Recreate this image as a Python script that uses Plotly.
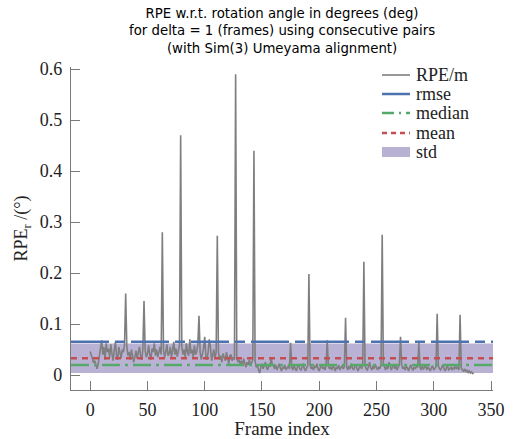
import plotly.graph_objects as go

# ---------------- data ----------------
frames = list(range(336))
rpe = [
    0.046, 0.038, 0.030, 0.024, 0.028, 0.018, 0.012, 0.022, 0.035, 0.050, 0.068, 0.040, 0.055, 0.030, 0.062, 0.045,
    0.052, 0.035, 0.060, 0.042, 0.028, 0.048, 0.065, 0.038, 0.030, 0.055, 0.040, 0.033, 0.050, 0.045, 0.060, 0.160,
    0.055, 0.038, 0.045, 0.030, 0.050, 0.040, 0.025, 0.035, 0.048, 0.032, 0.042, 0.055, 0.038, 0.030, 0.050, 0.145,
    0.048, 0.035, 0.042, 0.058, 0.040, 0.030, 0.052, 0.045, 0.062, 0.038, 0.050, 0.035, 0.045, 0.055, 0.040, 0.280,
    0.050, 0.035, 0.045, 0.060, 0.038, 0.042, 0.055, 0.035, 0.048, 0.065, 0.040, 0.052, 0.036, 0.045, 0.058, 0.470,
    0.055, 0.040, 0.050, 0.035, 0.062, 0.045, 0.038, 0.070, 0.042, 0.050, 0.035, 0.058, 0.040, 0.045, 0.060, 0.116,
    0.045, 0.030, 0.040, 0.052, 0.075, 0.038, 0.030, 0.045, 0.070, 0.055, 0.028, 0.040, 0.050, 0.032, 0.045, 0.273,
    0.045, 0.030, 0.038, 0.025, 0.042, 0.035, 0.028, 0.045, 0.030, 0.022, 0.038, 0.040, 0.028, 0.035, 0.030, 0.590,
    0.035, 0.025, 0.030, 0.020, 0.028, 0.018, 0.032, 0.022, 0.015, 0.025, 0.020, 0.030, 0.018, 0.024, 0.030, 0.440,
    0.028, 0.015, 0.020, 0.010, 0.004, 0.015, 0.022, 0.012, 0.018, 0.025, 0.014, 0.010, 0.020, 0.016, 0.035, 0.020,
    0.018, 0.012, 0.020, 0.010, 0.015, 0.022, 0.014, 0.008, 0.016, 0.012, 0.020, 0.010, 0.014, 0.018, 0.012, 0.063,
    0.015, 0.010, 0.018, 0.012, 0.008, 0.016, 0.020, 0.012, 0.010, 0.015, 0.022, 0.012, 0.008, 0.014, 0.018, 0.198,
    0.020, 0.012, 0.016, 0.010, 0.018, 0.014, 0.022, 0.012, 0.008, 0.015, 0.020, 0.012, 0.016, 0.010, 0.018, 0.068,
    0.018, 0.012, 0.015, 0.010, 0.020, 0.014, 0.008, 0.016, 0.012, 0.020, 0.010, 0.015, 0.018, 0.012, 0.016, 0.112,
    0.015, 0.010, 0.018, 0.012, 0.022, 0.014, 0.010, 0.016, 0.020, 0.012, 0.008, 0.015, 0.018, 0.012, 0.020, 0.222,
    0.018, 0.012, 0.010, 0.016, 0.025, 0.014, 0.010, 0.018, 0.012, 0.020, 0.015, 0.010, 0.016, 0.012, 0.020, 0.275,
    0.022, 0.015, 0.010, 0.018, 0.012, 0.025, 0.014, 0.010, 0.016, 0.020, 0.012, 0.018, 0.010, 0.015, 0.020, 0.075,
    0.020, 0.012, 0.016, 0.010, 0.018, 0.014, 0.008, 0.015, 0.020, 0.012, 0.010, 0.016, 0.012, 0.018, 0.015, 0.063,
    0.015, 0.010, 0.018, 0.012, 0.014, 0.020, 0.010, 0.016, 0.012, 0.008, 0.015, 0.018, 0.010, 0.014, 0.016, 0.120,
    0.018, 0.012, 0.010, 0.015, 0.020, 0.012, 0.008, 0.014, 0.018, 0.010, 0.012, 0.016, 0.010, 0.014, 0.012, 0.018,
    0.012, 0.015, 0.010, 0.118, 0.014, 0.010, 0.008, 0.012, 0.006, 0.010, 0.005, 0.008, 0.004, 0.006, 0.003, 0.004,
]

stat_rmse = 0.065
stat_median = 0.0195
stat_mean = 0.033
stat_std = 0.058

x_tickvals = [0, 50, 100, 150, 200, 250, 300, 350]
x_ticktext = ["0", "50", "100", "150", "200", "250", "300", "350"]
y_tickvals = [0, 0.1, 0.2, 0.3, 0.4, 0.5, 0.6]
y_ticktext = ["0", "0.1", "0.2", "0.3", "0.4", "0.5", "0.6"]

legend_names = ["RPE/m", "rmse", "median", "mean", "std"]
title_text = ("RPE w.r.t. rotation angle in degrees (deg)<br>"
              "for delta = 1 (frames) using consecutive pairs<br>"
              "(with Sim(3) Umeyama alignment)")

# ---------------- style ----------------
W, H = 518, 439
ML, MR, MT, MB = 71, 25, 67, 49
C_RPE = "#7f7f7f"
C_RMSE = "#4c72b0"
C_MED = "#55a868"
C_MEAN = "#c44e52"
C_STD = "rgba(129,114,178,0.55)"
SERIF = "Liberation Serif, Times New Roman, serif"
AXC = "#7a7a7a"

DASH_RMSE = "38px,6px,10px,6px"
DASH_MED = "18px,5px,3px,5px"
DASH_MEAN = "6px,5px"

fig = go.Figure()
fig.add_trace(go.Scatter(x=frames, y=rpe, mode="lines",
                         line=dict(color=C_RPE, width=1.6),
                         name=legend_names[0], showlegend=False))

# std band (mean +/- std/2), drawn below the data
fig.add_shape(type="rect", xref="x domain", yref="y", x0=0, x1=1,
              y0=stat_mean - stat_std / 2, y1=stat_mean + stat_std / 2,
              fillcolor=C_STD, line_width=0, layer="below")
# statistic lines
for val, col, dash in [(stat_rmse, C_RMSE, DASH_RMSE),
                       (stat_median, C_MED, DASH_MED),
                       (stat_mean, C_MEAN, DASH_MEAN)]:
    fig.add_shape(type="line", xref="x domain", yref="y", x0=0, x1=1,
                  y0=val, y1=val, line=dict(color=col, width=2.5, dash=dash),
                  layer="above")

# ---------------- custom legend (paper coords from pixel positions) ----------------
pw, ph = W - ML - MR, H - MT - MB
def px(xp):
    return (xp - ML) / pw
def py(yp):
    return 1 - (yp - MT) / ph

leg_rows = [75, 94, 113, 133, 152]
sym_x0, sym_x1, txt_x = 382, 410, 415
leg_styles = [(C_RPE, 1.6, "solid"), (C_RMSE, 2.5, "solid"),
              (C_MED, 2.5, "12px,5px,2px,5px"), (C_MEAN, 2.5, "5px,4px")]
for i, name in enumerate(legend_names):
    yc = leg_rows[i]
    if i < 4:
        col, wdt, dsh = leg_styles[i]
        fig.add_shape(type="line", xref="paper", yref="paper",
                      x0=px(sym_x0), x1=px(sym_x1), y0=py(yc), y1=py(yc),
                      line=dict(color=col, width=wdt, dash=dsh))
    else:
        fig.add_shape(type="rect", xref="paper", yref="paper",
                      x0=px(sym_x0), x1=px(sym_x1), y0=py(yc - 5), y1=py(yc + 5),
                      fillcolor=C_STD, line_width=0)
    fig.add_annotation(x=px(txt_x), y=py(yc), xref="paper", yref="paper",
                       text=name, showarrow=False, xanchor="left", yanchor="middle",
                       height=18, valign="middle", borderpad=0,
                       font=dict(family=SERIF, size=18, color="#222"))

# title (three centred lines above the axes)
fig.add_annotation(x=0.5, y=py(31), xref="paper", yref="paper",
                   text=title_text, showarrow=False, xanchor="center", yanchor="middle",
                   align="center",
                   font=dict(family="DejaVu Sans", size=13.3, color="black"))

fig.update_layout(
    width=W, height=H,
    margin=dict(l=ML, r=MR, t=MT, b=MB, autoexpand=False),
    paper_bgcolor="white", plot_bgcolor="white",
    showlegend=False,
    xaxis=dict(range=[-16.75, 351.75], tickvals=x_tickvals, ticktext=x_ticktext,
               automargin=False, ticklabelstandoff=3,
               showgrid=False, zeroline=False, showline=True, linecolor=AXC, linewidth=1.3,
               ticks="inside", ticklen=9, tickcolor=AXC, tickwidth=1.2,
               tickfont=dict(family=SERIF, size=18, color="#222"),
               title=dict(text="Frame index", font=dict(family=SERIF, size=19, color="#222"), standoff=0)),
    yaxis=dict(range=[-0.0294, 0.604], tickvals=y_tickvals, ticktext=y_ticktext,
               automargin=False, ticklabelstandoff=4,
               showgrid=False, zeroline=False, showline=True, linecolor=AXC, linewidth=1.3,
               ticks="inside", ticklen=9, tickcolor=AXC, tickwidth=1.2,
               tickfont=dict(family=SERIF, size=18, color="#222"),
               title=dict(text="RPE<sub>r</sub> /(°)", font=dict(family=SERIF, size=18, color="#222"), standoff=7)),
)

fig.write_html("out.html", config={"displayModeBar": False},
               post_script="document.body.style.margin='0';document.body.style.overflow='hidden';")
